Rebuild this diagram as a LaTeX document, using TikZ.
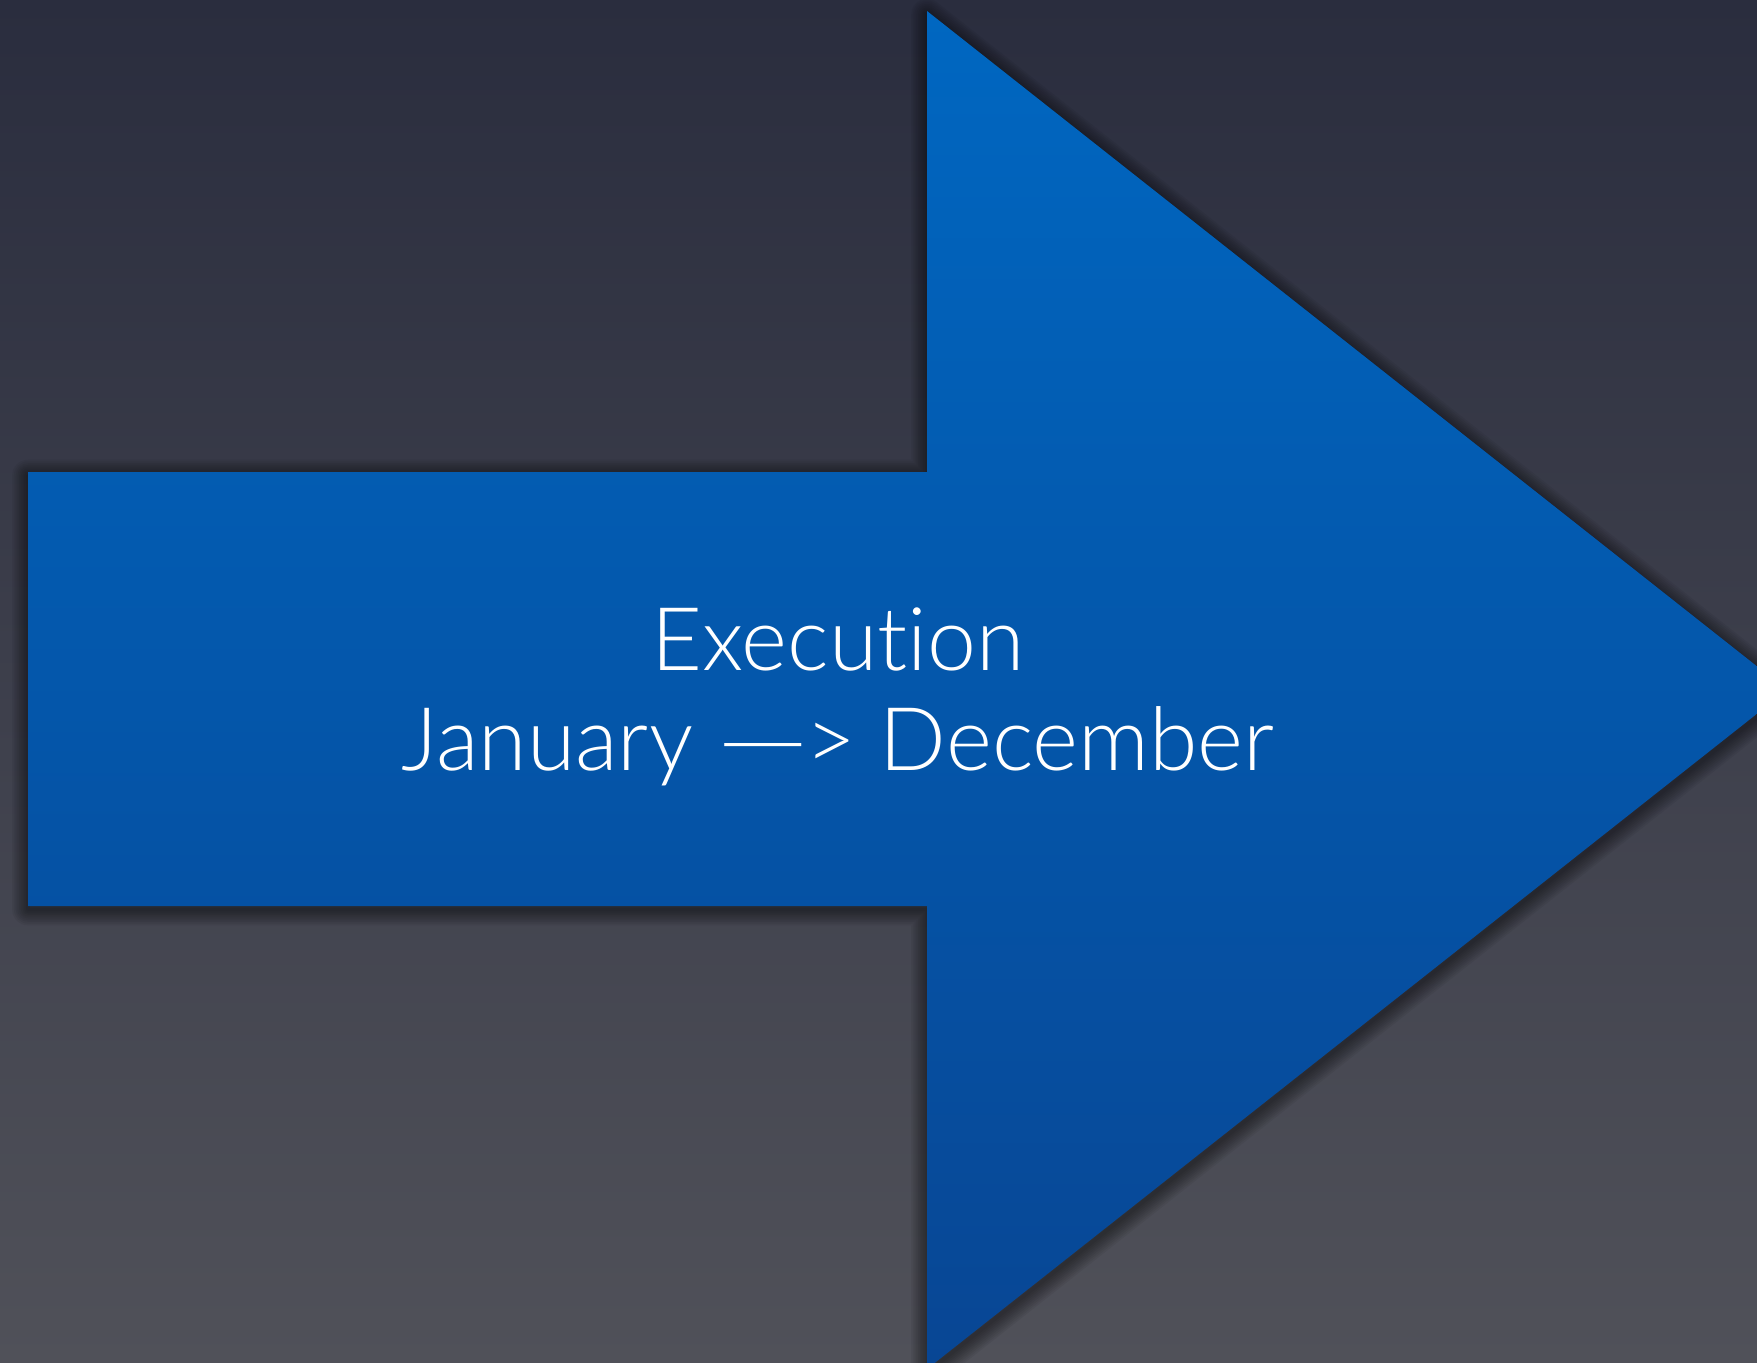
\documentclass[tikz,border=0pt]{standalone}
\usepackage{fontspec}
\setmainfont{Lato Light}[Ligatures=NoCommon]
\usetikzlibrary{calc}

\definecolor{bgtop}{RGB}{42,45,62}
\definecolor{bgbottom}{RGB}{80,81,89}
\definecolor{arrowtop}{RGB}{0,103,193}
\definecolor{arrowbottom}{RGB}{8,70,148}

\newcommand{\arrowoutline}{(A) -- (B) -- (C) -- (T) -- (D) -- (E) -- (F) -- cycle}

\begin{document}
\begin{tikzpicture}[x=0.01cm, y=-0.01cm]

    \useasboundingbox (0,0) rectangle (1757,1362);
    \shade [top color=bgtop, bottom color=bgbottom] (0,0) rectangle (1757,1362);

    \coordinate (A) at (28,472);
    \coordinate (B) at (927,472);
    \coordinate (C) at (927,11);
    \coordinate (T) at (1787,690);
    \coordinate (D) at (927,1369);
    \coordinate (E) at (927,906);
    \coordinate (F) at (28,906);

    \begin{scope}
        \clip (0,0) rectangle (1757,1362);
        % soft shadow
        \foreach \w in {9,8,...,1}
            \draw [black, opacity=0.05, line width=\w pt, line join=round,
                   transform canvas={yshift=-1pt}] \arrowoutline;
        \shade [top color=arrowtop, bottom color=arrowbottom] \arrowoutline;
    \end{scope}

    \node [text=white, font=\fontsize{25}{28.5}\selectfont, align=center]
        (label) at (838,697) {Execution\\January \scalebox{1.35}[1]{—}\kern-1.5pt> December};
\end{tikzpicture}
\end{document}
